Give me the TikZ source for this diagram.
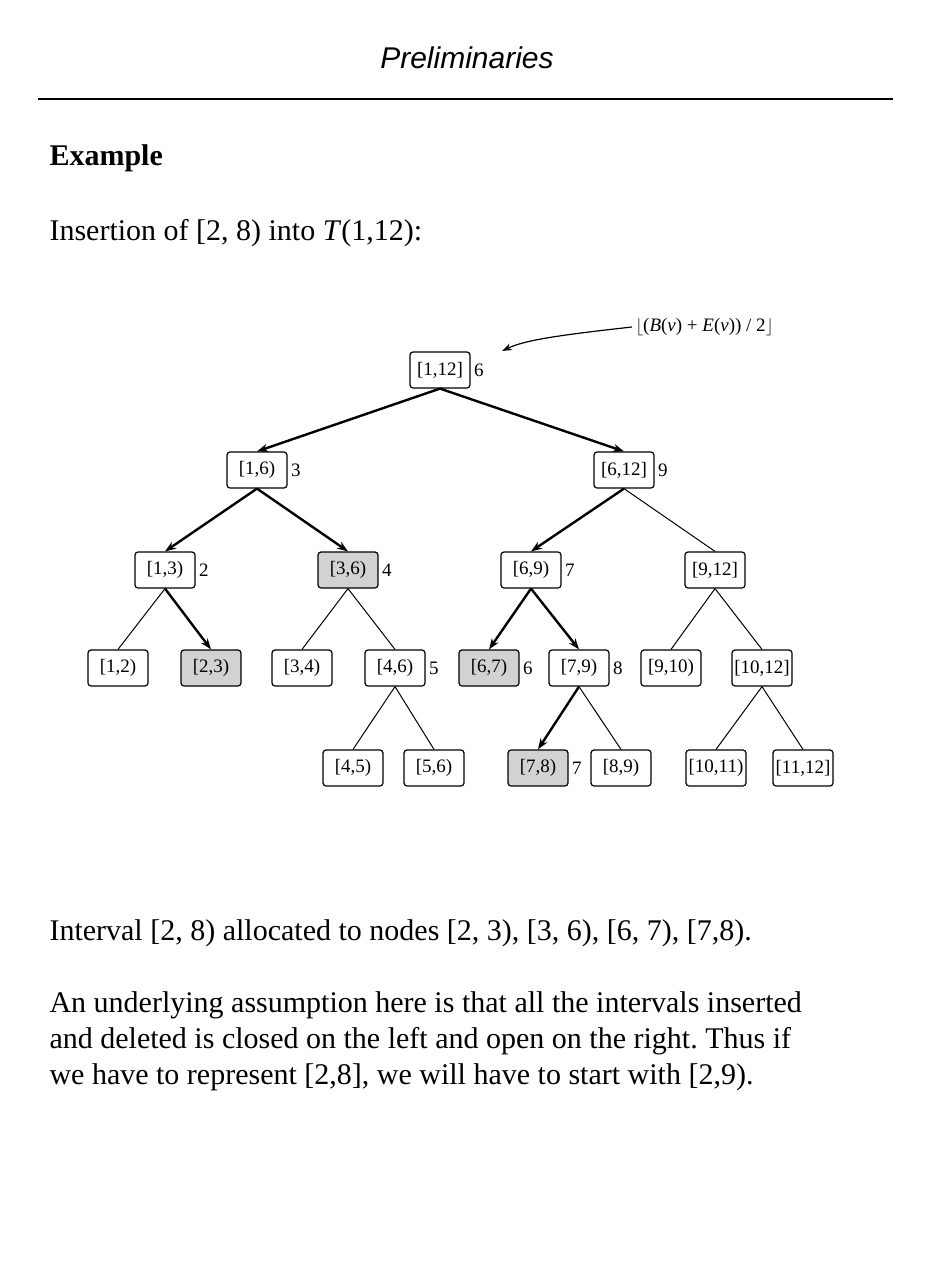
\documentclass[tikz,border=0pt]{standalone}
\usepackage{fontspec}
\setmainfont{Liberation Serif}
\newfontfamily\ttl{Liberation Sans}
\usetikzlibrary{arrows.meta}
\frenchspacing
\begin{document}
\begin{tikzpicture}[x=1pt,y=-1pt,
  iv/.style={draw,rounded corners=3pt,minimum width=60pt,minimum height=36pt,inner sep=1pt,font=\fontsize{19}{22}\selectfont,line width=1.2pt},
  hl/.style={iv,fill=gray!35},
  lab/.style={font=\fontsize{19}{22}\selectfont,anchor=west},
  tk/.style={line width=2.4pt,-{Stealth[length=11pt,width=8pt]}},
  tn/.style={line width=1pt},
  big/.style={font=\fontsize{30}{36}\selectfont,anchor=west}]
\useasboundingbox (0,0) rectangle (931,1288);
\node[font=\ttl\itshape\fontsize{30}{36}\selectfont] (title) at (467,58) {Preliminaries};
\draw[line width=1.2pt] (38,99) -- (893,99);
\node[big,font=\bfseries\fontsize{30}{36}\selectfont] (ex) at (46,158) {Example};
\node[big] (ins) at (46,233) {Insertion of [2, 8) into \textit{T}(1,12):};
% nodes
\node[iv] (a) at (440,370) {[1,12]};
\node[iv] (b) at (257,470) {[1,6)};
\node[iv] (c) at (624,470) {[6,12]};
\node[iv] (d) at (165,570) {[1,3)};
\node[hl] (e) at (348,570) {[3,6)};
\node[iv] (f) at (531,570) {[6,9)};
\node[iv] (g) at (715,570) {[9,12]};
\node[iv] (h1) at (118,668) {[1,2)};
\node[hl] (h2) at (211,668) {[2,3)};
\node[iv] (h3) at (302,668) {[3,4)};
\node[iv] (h4) at (395,668) {[4,6)};
\node[hl] (h5) at (489,668) {[6,7)};
\node[iv] (h6) at (579,668) {[7,9)};
\node[iv] (h7) at (671,668) {[9,10)};
\node[iv] (h8) at (762,668) {[10,12]};
\node[iv] (k1) at (353,768) {[4,5)};
\node[iv] (k2) at (434,768) {[5,6)};
\node[hl] (k3) at (538,768) {[7,8)};
\node[iv] (k4) at (621,768) {[8,9)};
\node[iv] (k5) at (716,768) {[10,11)};
\node[iv] (k6) at (803,768) {[11,12]};
% labels
\node[lab] (la) at (a.east) {6};
\node[lab] (lb) at (b.east) {3};
\node[lab] (lc) at (c.east) {9};
\node[lab] (ld) at (d.east) {2};
\node[lab] (le) at (e.east) {4};
\node[lab] (lf) at (f.east) {7};
\node[lab] (lh4) at (h4.east) {5};
\node[lab] (lh5) at (h5.east) {6};
\node[lab] (lh6) at (h6.east) {8};
\node[lab] (lk3) at (k3.east) {7};
% edges
\draw[tk] (a.south) -- (b.north);
\draw[tk] (a.south) -- (c.north);
\draw[tk] (b.south) -- (d.north);
\draw[tk] (b.south) -- (e.north);
\draw[tk] (c.south) -- (f.north);
\draw[tn] (c.south) -- (g.north);
\draw[tn] (d.south) -- (h1.north);
\draw[tk] (d.south) -- (h2.north);
\draw[tn] (e.south) -- (h3.north);
\draw[tn] (e.south) -- (h4.north);
\draw[tk] (f.south) -- (h5.north);
\draw[tk] (f.south) -- (h6.north);
\draw[tn] (g.south) -- (h7.north);
\draw[tn] (g.south) -- (h8.north);
\draw[tn] (h4.south) -- (k1.north);
\draw[tn] (h4.south) -- (k2.north);
\draw[tk] (h6.south) -- (k3.north);
\draw[tn] (h6.south) -- (k4.north);
\draw[tn] (h8.south) -- (k5.north);
\draw[tn] (h8.south) -- (k6.north);
% annotation
\node[lab] (ann) at (632,327) {$\lfloor$(\textit{B}(\textit{v}) + \textit{E}(\textit{v})) / 2$\rfloor$};
\coordinate (tip) at (502,351);
\draw[line width=1.2pt,-{Stealth[length=10pt,width=7pt]}] (ann.west) .. controls (560,335) and (525,340) .. (tip);
% bottom text
\node[big] (t1) at (46,933) {Interval [2, 8) allocated to nodes [2, 3), [3, 6), [6, 7), [7,8).};
\node[big] (t2) at (46,1005) {An underlying assumption here is that all the intervals inserted};
\node[big] (t3) at (46,1041) {and deleted is closed on the left and open on the right. Thus if};
\node[big] (t4) at (46,1077) {we have to represent [2,8], we will have to start with [2,9).};
\end{tikzpicture}
\end{document}
